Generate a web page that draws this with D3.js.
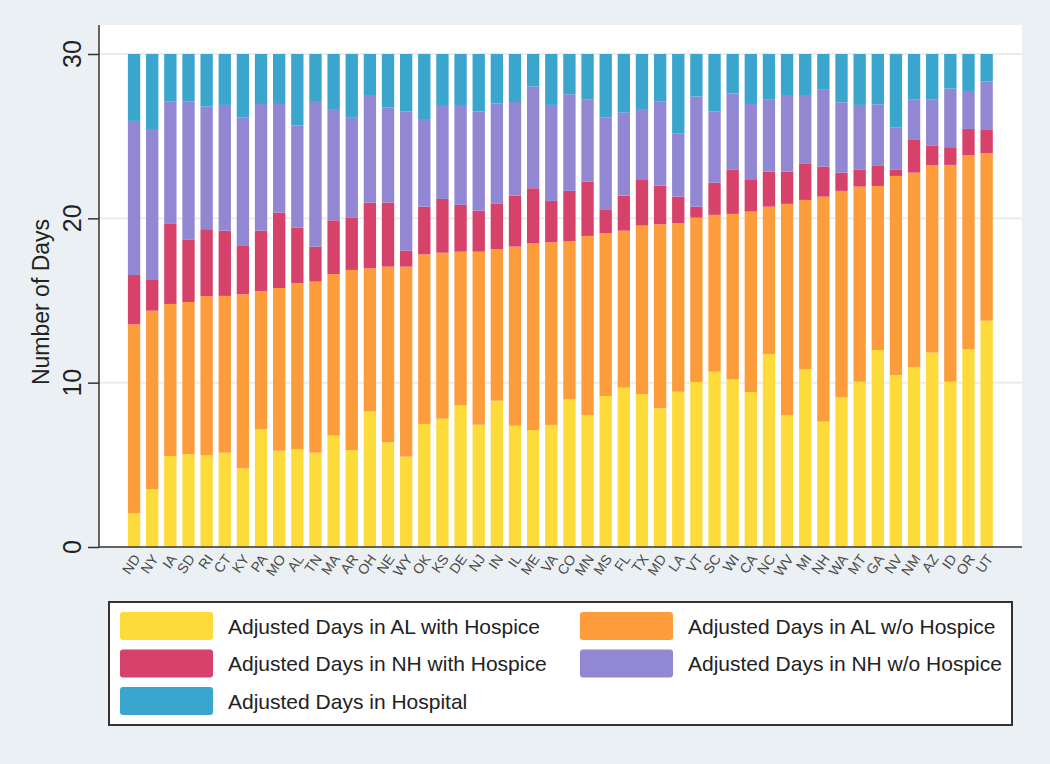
<!DOCTYPE html>
<meta charset="utf-8">
<head>
    <script src="https://d3js.org/d3.v7.min.js"></script>
</head>
<style>
    body {
        margin: 0;
        background: #eaf0f3;
        font-family: "Liberation Sans", Arial, Helvetica, sans-serif;
    }
</style>
<body>
<script>
    'use strict';

    // states, ordered as in the figure
    const states = ["ND", "NY", "IA", "SD", "RI", "CT", "KY", "PA", "MO", "AL", "TN", "MA", "AR", "OH", "NE", "WY",
        "OK", "KS", "DE", "NJ", "IN", "IL", "ME", "VA", "CO", "MN", "MS", "FL", "TX", "MD", "LA", "VT", "SC", "WI",
        "CA", "NC", "WV", "MI", "NH", "WA", "MT", "GA", "NV", "NM", "AZ", "ID", "OR", "UT"];

    // days per segment
    const alWithHospice = [2.05, 3.53, 5.54, 5.64, 5.58, 5.74, 4.79, 7.18, 5.86, 5.94, 5.74, 6.78, 5.90, 8.26, 6.37, 5.50,
        7.49, 7.81, 8.64, 7.44, 8.90, 7.38, 7.12, 7.43, 8.99, 8.03, 9.19, 9.70, 9.31, 8.44, 9.45, 10.04, 10.67, 10.20,
        9.43, 11.75, 8.03, 10.81, 7.63, 9.11, 10.06, 11.99, 10.47, 10.94, 11.83, 10.06, 12.03, 13.77];
    const alWithoutHospice = [11.50, 10.85, 9.25, 9.27, 9.68, 9.54, 10.59, 8.40, 9.90, 10.11, 10.41, 9.82, 10.96, 8.70, 10.69, 11.56,
        10.32, 10.10, 9.33, 10.53, 9.22, 10.90, 11.36, 11.11, 9.63, 10.90, 9.90, 9.55, 10.25, 11.20, 10.25, 10.00, 9.54, 10.07,
        10.98, 8.96, 12.85, 10.31, 13.69, 12.56, 11.87, 9.98, 12.11, 11.84, 11.40, 13.19, 11.81, 10.19];
    const nhWithHospice = [3.00, 1.87, 4.87, 3.78, 4.08, 3.97, 2.94, 3.67, 4.59, 3.39, 2.13, 3.28, 3.20, 4.00, 3.90, 0.98,
        2.90, 3.27, 2.85, 2.50, 2.76, 3.10, 3.35, 2.52, 3.05, 3.31, 1.46, 2.13, 2.82, 2.35, 1.62, 0.67, 1.96, 2.68,
        1.97, 2.13, 1.96, 2.19, 1.83, 1.11, 1.02, 1.22, 0.37, 2.03, 1.18, 1.08, 1.60, 1.46];
    const nhWithoutHospice = [9.38, 9.13, 7.44, 8.41, 7.46, 7.65, 7.83, 7.71, 6.61, 6.21, 8.86, 6.72, 6.06, 6.49, 5.78, 8.46,
        5.28, 5.66, 6.02, 6.03, 6.12, 5.70, 6.19, 5.84, 5.88, 5.01, 5.60, 5.05, 4.22, 5.11, 3.86, 6.70, 4.33, 4.66,
        4.58, 4.41, 4.61, 4.14, 4.71, 4.28, 3.95, 3.75, 2.59, 2.44, 2.84, 3.57, 2.31, 2.90];
    const hospital = [4.07, 4.62, 2.90, 2.90, 3.20, 3.10, 3.85, 3.04, 3.04, 4.35, 2.86, 3.40, 3.88, 2.55, 3.26, 3.50,
        4.01, 3.16, 3.16, 3.50, 3.00, 2.92, 1.98, 3.10, 2.45, 2.75, 3.85, 3.57, 3.40, 2.90, 4.82, 2.59, 3.50, 2.39,
        3.04, 2.75, 2.55, 2.55, 2.14, 2.94, 3.10, 3.06, 4.46, 2.75, 2.75, 2.10, 2.25, 1.68];

    const seriesNames = ["Adjusted Days in AL with Hospice", "Adjusted Days in AL w/o Hospice",
        "Adjusted Days in NH with Hospice", "Adjusted Days in NH w/o Hospice", "Adjusted Days in Hospital"];
    const seriesColors = ["#fddb3a", "#fd9c3b", "#d6426a", "#9287d2", "#3aa6cd"];
    const yTicks = [0, 10, 20, 30];

    const width = 1050, height = 764;
    const plot = { left: 99, right: 1022, top: 25, bottom: 547 };

    const keys = ["s0", "s1", "s2", "s3", "s4"];
    const table = states.map((s, i) => ({
        state: s,
        s0: alWithHospice[i], s1: alWithoutHospice[i], s2: nhWithHospice[i],
        s3: nhWithoutHospice[i], s4: hospital[i]
    }));

    const stack = d3.stack().keys(keys)(table);

    const x = d3.scaleBand().domain(states).range([125, 995.7]).paddingInner(0.32).paddingOuter(0.16);
    const y = d3.scaleLinear().domain([0, 30]).range([547, 54]);
    const color = d3.scaleOrdinal().domain(keys).range(seriesColors);

    const svg = d3.select("body").append("svg")
        .attr("width", width)
        .attr("height", height);

    svg.append("rect")
        .attr("width", width).attr("height", height)
        .attr("fill", "#eaf0f3");

    // white plot region
    svg.append("rect")
        .attr("x", plot.left).attr("y", plot.top)
        .attr("width", plot.right - plot.left).attr("height", plot.bottom - plot.top)
        .attr("fill", "#fff");

    // grid
    svg.append("g").selectAll("line")
        .data(yTicks.filter(d => d > 0))
        .join("line")
        .attr("x1", plot.left).attr("x2", plot.right)
        .attr("y1", d => y(d)).attr("y2", d => y(d))
        .attr("stroke", "#ececec").attr("stroke-width", 2);

    // bars
    svg.append("g").selectAll("g")
        .data(stack)
        .join("g")
        .attr("fill", d => color(d.key))
        .selectAll("rect")
        .data(d => d)
        .join("rect")
        .attr("x", d => x(d.data.state))
        .attr("y", d => y(d[1]))
        .attr("width", x.bandwidth())
        .attr("height", d => y(d[0]) - y(d[1]));

    // y axis: ticks from d3, labels drawn rotated by hand
    const yAxis = svg.append("g")
        .attr("transform", `translate(${plot.left},0)`)
        .call(d3.axisLeft(y).tickValues(yTicks).tickSize(11).tickSizeOuter(0).tickFormat(""));
    yAxis.select(".domain").remove();
    yAxis.selectAll(".tick line").attr("stroke", "#333").attr("stroke-width", 1.5);

    svg.append("g").selectAll("text")
        .data(yTicks)
        .join("text")
        .attr("transform", d => `translate(81,${y(d)}) rotate(-90)`)
        .attr("text-anchor", "middle")
        .attr("fill", "#222")
        .style("font-size", "25px")
        .text(d => d);

    svg.append("line")
        .attr("x1", plot.left).attr("x2", plot.left)
        .attr("y1", plot.top).attr("y2", plot.bottom)
        .attr("stroke", "#333").attr("stroke-width", 1.5);

    // x axis
    svg.append("line")
        .attr("x1", plot.left).attr("x2", plot.right)
        .attr("y1", plot.bottom).attr("y2", plot.bottom)
        .attr("stroke", "#333").attr("stroke-width", 1.5);

    svg.append("g").selectAll("text")
        .data(states)
        .join("text")
        .attr("transform", d => `translate(${x(d) + x.bandwidth() / 2 + 3},${plot.bottom + 9}) rotate(-55)`)
        .attr("text-anchor", "end")
        .attr("dy", "0.35em")
        .attr("fill", "#4a4a4a")
        .style("font-size", "14px")
        .text(d => d);

    // axis title
    svg.append("text")
        .attr("transform", "translate(49,302) rotate(-90)")
        .attr("text-anchor", "middle")
        .attr("fill", "#222")
        .style("font-size", "23px")
        .text("Number of Days");

    // legend
    svg.append("rect")
        .attr("x", 109).attr("y", 602)
        .attr("width", 903).attr("height", 123)
        .attr("fill", "#fff").attr("stroke", "#333").attr("stroke-width", 2);

    const legend = svg.append("g").selectAll("g")
        .data(seriesNames)
        .join("g")
        .attr("transform", (d, i) => `translate(${i % 2 === 0 ? 120 : 580},${612 + Math.floor(i / 2) * 37.5})`);
    legend.append("rect")
        .attr("width", 93).attr("height", 28).attr("rx", 3)
        .attr("fill", (d, i) => seriesColors[i]);
    legend.append("text")
        .attr("x", 108).attr("y", 14).attr("dy", "0.36em")
        .attr("fill", "#222")
        .style("font-size", "21px")
        .text(d => d);
</script>
</body>
